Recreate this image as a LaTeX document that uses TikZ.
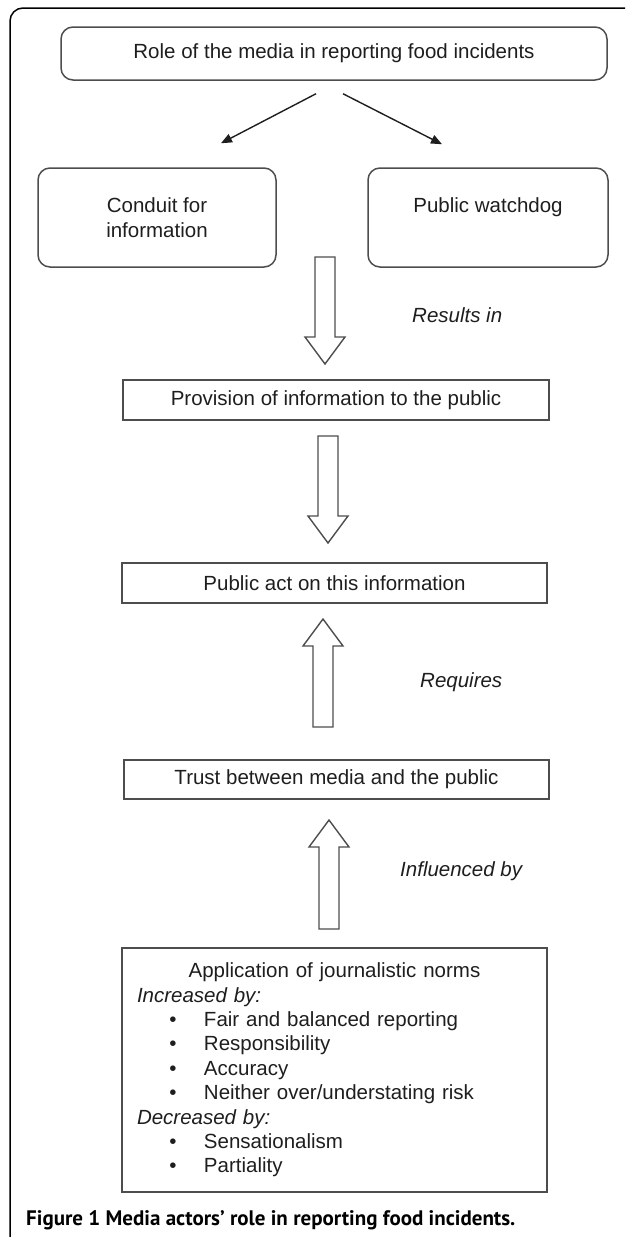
\documentclass[tikz,border=0pt]{standalone}
\usepackage{fontspec}
\setmainfont{Liberation Sans}
\newfontfamily\capfont{PT Sans}
\usetikzlibrary{arrows.meta,calc}
\definecolor{boxgray}{HTML}{4D4D4D}
\definecolor{inkgray}{HTML}{1E1E1E}
\newcommand{\blt}{\hspace*{32.4pt}\makebox[34.6pt][l]{\textbullet}}
\newcommand{\fatarrow}[3]{%
    \draw[fat] let \p1=(#1), \p2=(#2) in
        (\x1-10pt,\y1) -- (\x1-10pt,\y2#3) -- (\x1-20pt,\y2#3) -- (\x2,\y2)
        -- (\x1+20pt,\y2#3) -- (\x1+10pt,\y2#3) -- (\x1+10pt,\y1) -- cycle;}
\begin{document}
\begin{tikzpicture}[x=1pt,y=-1pt,
    font=\fontsize{20.5}{25}\selectfont,
    rbox/.style={draw=boxgray,line width=1.5pt,rounded corners=12pt,align=center,text=inkgray},
    sbox/.style={draw=boxgray,line width=1.5pt,align=center,text=inkgray},
    leadarr/.style={draw=inkgray,line width=1.4pt,-{Triangle[length=11pt,width=9pt]}},
    fat/.style={draw=boxgray,line width=1.4pt,fill=white},
    note/.style={anchor=west,inner sep=0pt,font=\fontsize{20.5}{25}\selectfont\itshape,text=inkgray}]
    \useasboundingbox (0,0) rectangle (625,1237);
    \clip (0,0) rectangle (625,1237);
    \draw[line width=1.5pt,rounded corners=13pt] (10,8) rectangle (660,1262);

    \node[rbox,minimum width=546pt,minimum height=53pt] (role) at (334,53.5) {Role of the media in reporting food incidents};
    \node[rbox,minimum width=238pt,minimum height=99pt] (conduit) at (157,217.5) {Conduit for\\information};
    \node[rbox,minimum width=240pt,minimum height=99pt] (watchdog) at (488,217.5) {Public watchdog\\\mbox{}};
    \node[sbox,minimum width=426pt,minimum height=40pt] (provision) at (336,400) {Provision of information to the public};
    \node[sbox,minimum width=425pt,minimum height=40pt] (act) at (334.5,583) {Public act on this information};
    \node[sbox,minimum width=425pt,minimum height=39pt] (trust) at (336.5,779.5) {Trust between media and the public};
    \node[sbox,minimum width=425pt,minimum height=244pt,text width=395pt,inner xsep=15pt,align=left,
        font=\fontsize{20.5}{24.4}\selectfont] (norms) at (334.5,1070) {%
        \makebox[395pt]{Application of journalistic norms}\\
        \textit{Increased by:}\\
        \blt Fair and balanced reporting\\
        \blt Responsibility\\
        \blt Accuracy\\
        \blt Neither over/understating risk\\
        \textit{Decreased by:}\\
        \blt Sensationalism\\
        \blt Partiality};

    \draw[leadarr] ($(role.south)+(-18,13)$) -- ($(conduit.north)+(64,-24)$);
    \draw[leadarr] ($(role.south)+(9,13)$) -- ($(watchdog.north)+(-46,-23)$);

    \coordinate (a1s) at (325,257);
    \coordinate (a1e) at (325,364);
    \coordinate (a2s) at (328,436);
    \coordinate (a2e) at (328,543);
    \coordinate (a3s) at (323,727);
    \coordinate (a3e) at (323,619);
    \coordinate (a4s) at (329,929);
    \coordinate (a4e) at (329,820);
    \fatarrow{a1s}{a1e}{+27pt}
    \fatarrow{a2s}{a2e}{+27pt}
    \fatarrow{a3s}{a3e}{-27pt}
    \fatarrow{a4s}{a4e}{-27pt}

    \node[note] (resultsin) at (412,315) {Results in};
    \node[note] (requires) at (420,682) {Requires};
    \node[note] (influenced) at (400,871) {Influenced by};

    \node[anchor=west,inner sep=0pt,font=\capfont\bfseries\fontsize{21}{25}\selectfont] (caption) at (26,1220)
        {Figure 1 Media actors’ role in reporting food incidents.};
\end{tikzpicture}
\end{document}
